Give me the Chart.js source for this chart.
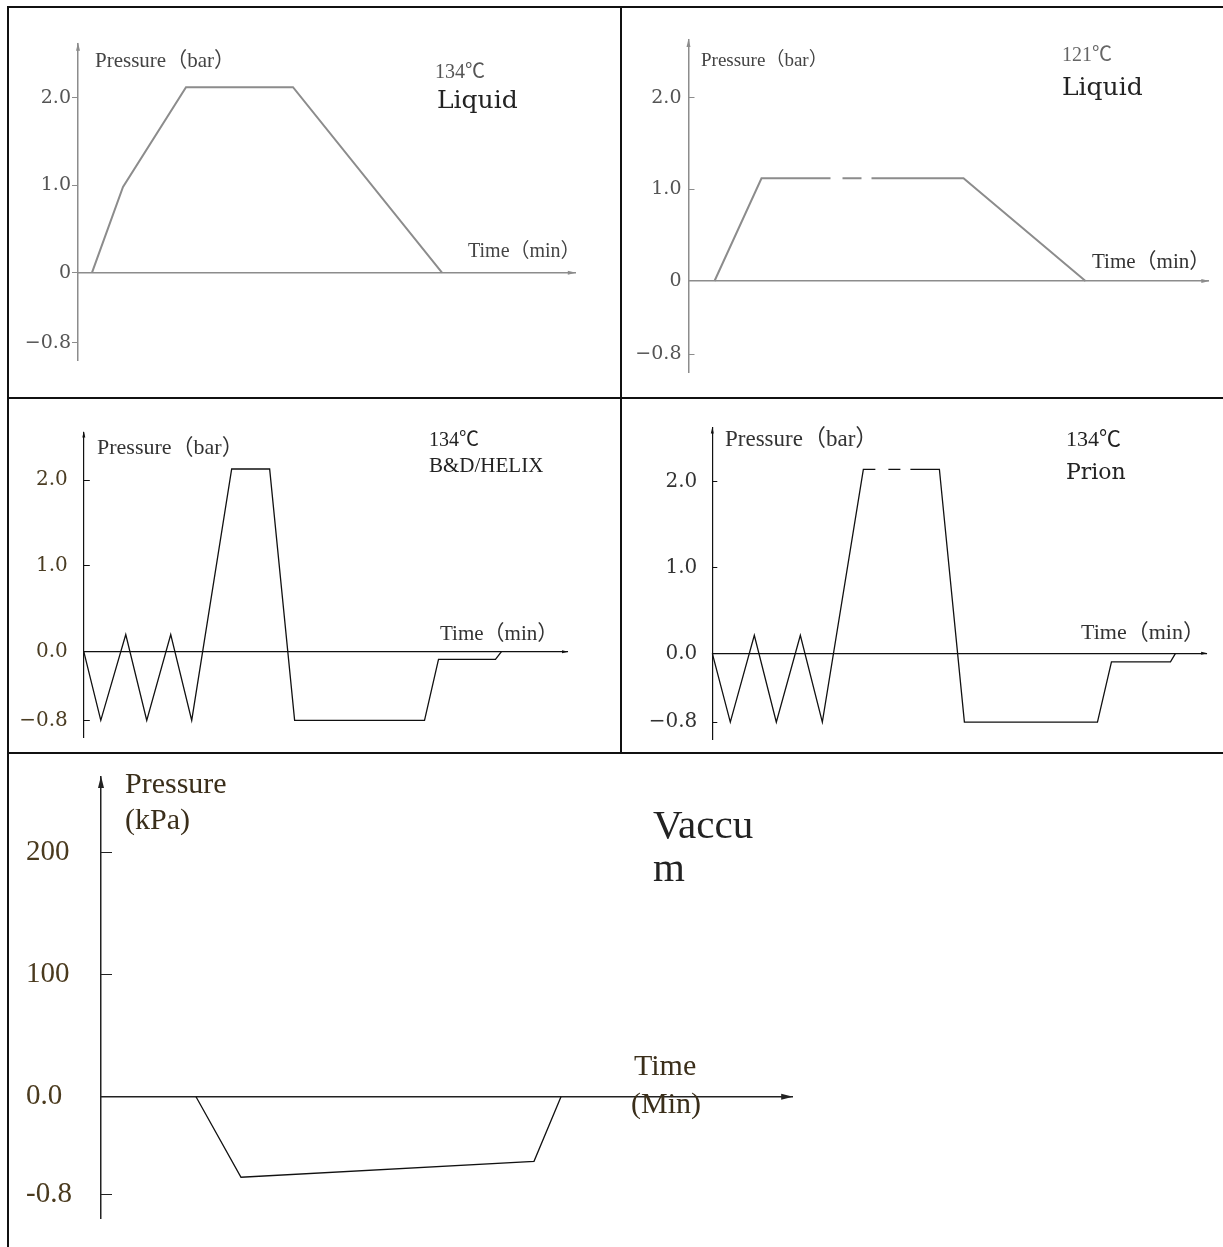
<!DOCTYPE html>
<html>
<head>
<meta charset="utf-8">
<script src="https://cdn.jsdelivr.net/npm/chart.js@4.4.1/dist/chart.umd.min.js"></script>
<style>
  body { margin: 0; background: #fff; }
  #page { position: relative; width: 1223px; height: 1247px; overflow: hidden; background: #fff; }
  .rule { position: absolute; background: #111; }
  canvas { position: absolute; }
  .lbl { position: absolute; white-space: nowrap; line-height: 1; z-index: 2; }
</style>
</head>
<body>
<div id="page">
  <div class="rule" style="left:7px;top:6px;width:1216px;height:2px"></div>
  <div class="rule" style="left:7px;top:6px;width:2px;height:1241px"></div>
  <div class="rule" style="left:620px;top:6px;width:2px;height:748px"></div>
  <div class="rule" style="left:7px;top:397px;width:1216px;height:2px"></div>
  <div class="rule" style="left:7px;top:752px;width:1216px;height:2px"></div>
  <canvas id="c1"></canvas>
  <canvas id="c2"></canvas>
  <canvas id="c3"></canvas>
  <canvas id="c4"></canvas>
  <canvas id="c5"></canvas>
</div>
<script>
// 134°C liquid cycle
const liquid134Time = [1.4, 4.5, 10.8, 21.5, 36.4];
const liquid134Bar = [0, 0.98, 2.12, 2.12, 0];

// 121°C liquid cycle (plateau is drawn broken twice)
const liquid121Time = [2.6, 7.3, 14.2, 14.8, 15.4, 17.3, 17.8, 18.3, 27.5, 39.7];
const liquid121Bar = [0, 1.12, 1.12, null, 1.12, 1.12, null, 1.12, 1.12, 0];

// 134°C B&D / HELIX
const helixTime = [0, 1.7, 4.2, 6.3, 8.7, 10.8, 14.8, 18.6, 21.1, 34.1, 35.5, 41.2, 41.8];
const helixBar = [0, -0.8, 0.2, -0.8, 0.2, -0.8, 2.13, 2.13, -0.8, -0.8, -0.09, -0.09, 0];

// 134°C prion (dashed plateau)
const prionTime = [0, 1.8, 4.2, 6.4, 8.8, 11.0, 15.1, 16.3, 16.9, 17.6, 18.8, 19.3, 19.8, 22.7, 25.2, 38.5, 39.9, 45.8, 46.3];
const prionBar = [0, -0.8, 0.21, -0.8, 0.21, -0.8, 2.14, 2.14, null, 2.14, 2.14, null, 2.14, 2.14, -0.8, -0.8, -0.1, -0.1, 0];

// vacuum test
const vacuumTime = [9.5, 14.0, 43.3, 46.0];
const vacuumKpa = [0, -66, -53, 0];

const barTicks = [-0.8, 0, 1, 2];
const barLabelsA = ["\u22120.8", "0", "1.0", "2.0"];
const barLabelsB = ["\u22120.8", "0.0", "1.0", "2.0"];
const kpaTicks = [-80, 0, 100, 200];
const kpaLabels = ["-0.8", "0.0", "100", "200"];

const SERIF = '"Liberation Serif", "Noto Sans CJK SC", serif';
const DSERIF = '"DejaVu Serif", "Noto Sans CJK SC", serif';

// little arrow heads at the ends of the axes
const arrowPlugin = {
    id: "arrows",
    afterDraw(chart, args, opts) {
        const a = chart.chartArea;
        const c = chart.ctx;
        const y0 = chart.scales.y.getPixelForValue(0);
        const s = opts.size;
        c.save();
        c.fillStyle = opts.color;
        c.beginPath();
        c.moveTo(a.left, a.top - 1);
        c.lineTo(a.left - s / 2, a.top + s * 1.8);
        c.lineTo(a.left + s / 2, a.top + s * 1.8);
        c.closePath();
        c.fill();
        c.beginPath();
        c.moveTo(a.right + 1, y0);
        c.lineTo(a.right - s * 1.8, y0 - s / 2);
        c.lineTo(a.right - s * 1.8, y0 + s / 2);
        c.closePath();
        c.fill();
        c.restore();
    }
};

function addLabel(l) {
    const d = document.createElement("div");
    d.className = "lbl";
    d.textContent = l.text;
    d.style.left = l.x + "px";
    d.style.top = (l.base - 0.84 * l.size) + "px";
    d.style.fontSize = l.size + "px";
    d.style.fontFamily = l.font || SERIF;
    d.style.color = l.color || "#222";
    document.getElementById("page").appendChild(d);
}

function makeChart(id, p) {
    const cell = p.cell, area = p.area;
    const canvas = document.getElementById(id);
    canvas.width = cell.w;
    canvas.height = cell.h;
    canvas.style.left = cell.x + "px";
    canvas.style.top = cell.y + "px";
    const padLeft = p.padLeft || 0;
    const yw = area.left - cell.x - padLeft;

    new Chart(canvas, {
        type: "line",
        data: {
            datasets: [{
                data: p.time.map((t, i) => ({ x: t, y: p.values[i] })),
                borderColor: p.line,
                borderWidth: p.lineWidth,
                pointRadius: 0,
                fill: false,
                tension: 0,
                spanGaps: false,
                clip: false
            }]
        },
        options: {
            responsive: false,
            animation: false,
            events: [],
            layout: {
                padding: {
                    left: padLeft,
                    top: area.top - cell.y,
                    right: cell.x + cell.w - area.right,
                    bottom: cell.y + cell.h - area.bottom
                }
            },
            plugins: {
                legend: { display: false },
                tooltip: { enabled: false },
                arrows: { size: p.arrow, color: p.axis }
            },
            scales: {
                x: {
                    type: "linear",
                    min: 0,
                    max: p.xMax,
                    position: { y: 0 },
                    ticks: { display: false },
                    grid: { display: false },
                    border: { color: p.axis, width: p.axisWidth }
                },
                y: {
                    type: "linear",
                    min: p.yMin,
                    max: p.yMax,
                    afterBuildTicks: s => { s.ticks = p.ticks.map(v => ({ value: v })); },
                    afterFit: s => {
                        // fixed axis box, no extra room for label overhang
                        s.width = yw;
                        s.paddingTop = 0;
                        s.paddingBottom = 0;
                    },
                    ticks: {
                        autoSkip: false,
                        padding: p.tickPad,
                        crossAlign: p.crossAlign || "near",
                        color: p.tickColor,
                        font: { family: p.tickFont, size: p.tickSize },
                        callback: v => p.tickLabels[p.ticks.indexOf(v)]
                    },
                    grid: { drawOnChartArea: false, tickLength: p.tickLen, color: p.axis, lineWidth: 1 },
                    border: { color: p.axis, width: p.axisWidth }
                }
            }
        },
        plugins: [arrowPlugin]
    });

    p.labels.forEach(addLabel);
}

makeChart("c1", {
    cell: { x: 9, y: 8, w: 611, h: 389 },
    area: { left: 78, right: 575, top: 43.5, bottom: 360.2 },
    time: liquid134Time, values: liquid134Bar, xMax: 49.7, yMin: -1.0, yMax: 2.62,
    ticks: barTicks, tickLabels: barLabelsA,
    tickFont: DSERIF, tickSize: 19, tickColor: "#555", tickLen: 6, tickPad: 1,
    line: "#8c8c8c", lineWidth: 2, axis: "#8c8c8c", axisWidth: 1.5, arrow: 4,
    labels: [
        { text: "Pressure（bar）", x: 95, base: 68, size: 21, color: "#444" },
        { text: "134℃", x: 435, base: 78, size: 20, color: "#555" },
        { text: "Liquid", x: 437, base: 108, size: 25, font: DSERIF, color: "#222" },
        { text: "Time（min）", x: 468, base: 257, size: 20, color: "#444" }
    ]
});

makeChart("c2", {
    cell: { x: 622, y: 8, w: 601, h: 389 },
    area: { left: 688.5, right: 1208.5, top: 39.8, bottom: 372.7 },
    time: liquid121Time, values: liquid121Bar, xMax: 52.0, yMin: -1.0, yMax: 2.63,
    ticks: barTicks, tickLabels: barLabelsA,
    tickFont: DSERIF, tickSize: 19, tickColor: "#555", tickLen: -6, tickPad: 13,
    line: "#8c8c8c", lineWidth: 2, axis: "#8c8c8c", axisWidth: 1.5, arrow: 4,
    labels: [
        { text: "Pressure（bar）", x: 701, base: 66, size: 19, color: "#444" },
        { text: "121℃", x: 1062, base: 61, size: 20, color: "#666" },
        { text: "Liquid", x: 1062, base: 95, size: 25, font: DSERIF, color: "#222" },
        { text: "Time（min）", x: 1092, base: 269, size: 21, color: "#333" }
    ]
});

makeChart("c3", {
    cell: { x: 9, y: 399, w: 611, h: 353 },
    area: { left: 83.8, right: 567.4, top: 432.1, bottom: 737.5 },
    time: helixTime, values: helixBar, xMax: 48.4, yMin: -1.0, yMax: 2.56,
    ticks: barTicks, tickLabels: barLabelsB,
    tickFont: DSERIF, tickSize: 20, tickColor: "#4a3c22", tickLen: -6, tickPad: 22,
    line: "#111", lineWidth: 1.3, axis: "#111", axisWidth: 1.2, arrow: 3,
    labels: [
        { text: "Pressure（bar）", x: 97, base: 454, size: 22, color: "#333" },
        { text: "134℃", x: 429, base: 446, size: 20, color: "#222" },
        { text: "B&D/HELIX", x: 429, base: 473, size: 21, color: "#222" },
        { text: "Time（min）", x: 440, base: 641, size: 21, color: "#333" }
    ]
});

makeChart("c4", {
    cell: { x: 622, y: 399, w: 601, h: 353 },
    area: { left: 712.3, right: 1206.5, top: 428, bottom: 739.3 },
    time: prionTime, values: prionBar, xMax: 49.4, yMin: -1.0, yMax: 2.62,
    ticks: barTicks, tickLabels: barLabelsB,
    tickFont: DSERIF, tickSize: 20, tickColor: "#333", tickLen: -5, tickPad: 20,
    line: "#111", lineWidth: 1.3, axis: "#111", axisWidth: 1.2, arrow: 3,
    labels: [
        { text: "Pressure（bar）", x: 725, base: 446, size: 23, color: "#333" },
        { text: "134℃", x: 1066, base: 446, size: 22, color: "#222" },
        { text: "Prion", x: 1066, base: 479, size: 22, font: DSERIF, color: "#222" },
        { text: "Time（min）", x: 1081, base: 639, size: 22, color: "#333" }
    ]
});

makeChart("c5", {
    cell: { x: 9, y: 754, w: 1214, h: 493 },
    area: { left: 101, right: 792, top: 777.1, bottom: 1218.7 },
    padLeft: 17, crossAlign: "far",
    time: vacuumTime, values: vacuumKpa, xMax: 69.1, yMin: -100, yMax: 262,
    ticks: kpaTicks, tickLabels: kpaLabels,
    tickFont: SERIF, tickSize: 29, tickColor: "#4a3a1e", tickLen: -11, tickPad: 35,
    line: "#111", lineWidth: 1.3, axis: "#222", axisWidth: 1.5, arrow: 6,
    labels: [
        { text: "Pressure", x: 125, base: 793, size: 30, color: "#3a2e1a" },
        { text: "(kPa)", x: 125, base: 829, size: 30, color: "#3a2e1a" },
        { text: "Vaccu", x: 653, base: 838, size: 41, color: "#222" },
        { text: "m", x: 653, base: 881, size: 41, color: "#222" },
        { text: "Time", x: 634, base: 1075, size: 30, color: "#3a2e1a" },
        { text: "(Min)", x: 631, base: 1113, size: 30, color: "#3a2e1a" }
    ]
});
</script>
</body>
</html>
